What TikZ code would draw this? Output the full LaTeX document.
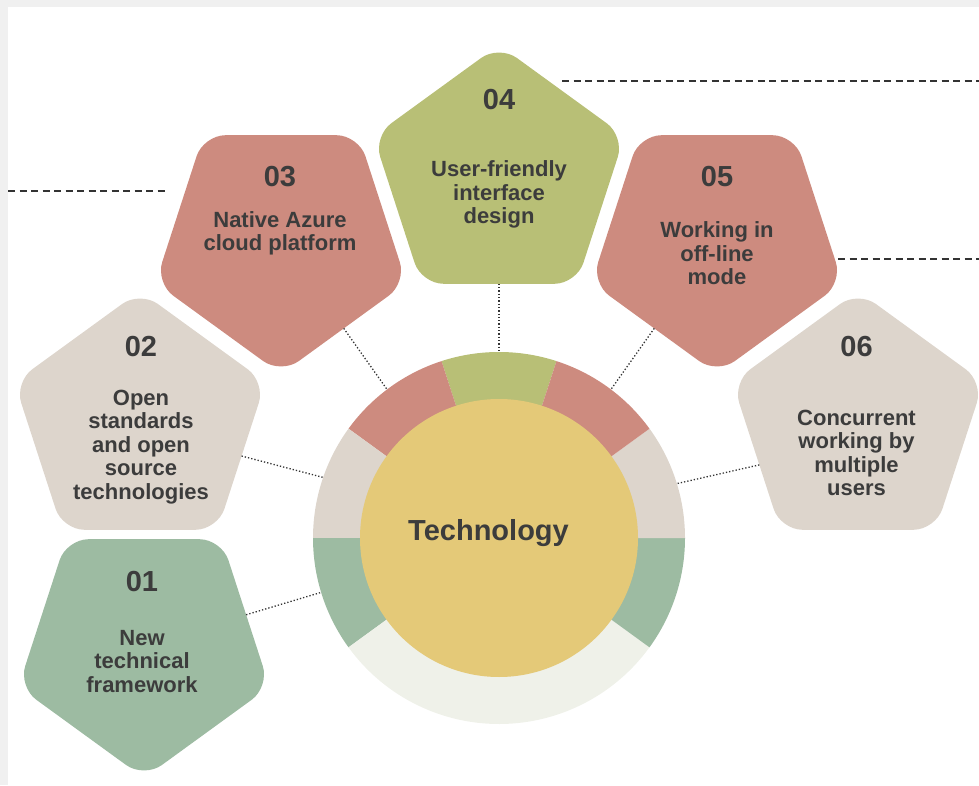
\documentclass[tikz,border=0pt]{standalone}
\usepackage{fontspec}
\setmainfont{Liberation Sans}
\usetikzlibrary{shapes.geometric}
\definecolor{cOlive}{HTML}{B8BF76}
\definecolor{cSalmon}{HTML}{CD8B7F}
\definecolor{cBeige}{HTML}{DDD5CC}
\definecolor{cSage}{HTML}{9DBBA2}
\definecolor{cLight}{HTML}{EFF1E9}
\definecolor{cYellow}{HTML}{E4C978}
\definecolor{cText}{HTML}{3C3C3C}
\definecolor{cLine}{HTML}{333333}
\definecolor{cStrip}{HTML}{F0F0F0}
\begin{document}
\begin{tikzpicture}[x=1pt,y=1pt,
  pent/.style={regular polygon, regular polygon sides=5, minimum size=264pt,
               inner sep=0pt, outer sep=0pt, rounded corners=22pt},
  pdown/.style={shape border rotate=180},
  num/.style={font=\fontsize{29}{32}\selectfont\bfseries, text=cText, anchor=base, inner sep=0pt},
  desc/.style={font=\fontsize{22}{23.5}\selectfont\bfseries, text=cText, align=center, anchor=base, inner sep=0pt},
  dotc/.style={draw=cLine, line width=1.3pt, dotted},
  dashc/.style={draw=cLine, line width=1.4pt, dash pattern=on 7pt off 4.5pt}]
\useasboundingbox (0,0) rectangle (979,785);
\fill[cStrip] (0,778) rectangle (979,785);
\fill[cStrip] (0,0) rectangle (8,785);

% dashed guide lines
\coordinate (dla) at (8,594);   \coordinate (dlb) at (165,594);
\coordinate (dta) at (562,704); \coordinate (dtb) at (979,704);
\coordinate (dra) at (838,526); \coordinate (drb) at (979,526);
\draw[dashc] (dla) -- (dlb);
\draw[dashc] (dta) -- (dtb);
\draw[dashc] (dra) -- (drb);

% ring
\coordinate (c) at (499,247);
\fill[cOlive]  (c) -- ++(72:186)  arc[start angle=72,  end angle=108, radius=186] -- cycle;
\fill[cSalmon] (c) -- ++(108:186) arc[start angle=108, end angle=144, radius=186] -- cycle;
\fill[cBeige]  (c) -- ++(144:186) arc[start angle=144, end angle=180, radius=186] -- cycle;
\fill[cSage]   (c) -- ++(180:186) arc[start angle=180, end angle=216, radius=186] -- cycle;
\fill[cLight]  (c) -- ++(216:186) arc[start angle=216, end angle=324, radius=186] -- cycle;
\fill[cSage]   (c) -- ++(324:186) arc[start angle=324, end angle=360, radius=186] -- cycle;
\fill[cBeige]  (c) -- ++(0:186)   arc[start angle=0,   end angle=36,  radius=186] -- cycle;
\fill[cSalmon] (c) -- ++(36:186)  arc[start angle=36,  end angle=72,  radius=186] -- cycle;
\node[circle, minimum size=372pt, inner sep=0pt] (ring) at (c) {};
\node[circle, fill=cYellow, minimum size=278pt, inner sep=0pt] (core) at (c) {};
\node[num] (tech) at (488.5,245) {Technology};

% pentagons
\node[pent, fill=cOlive] (p4) at (499,608) {};
\node[pent, pdown, fill=cSalmon] (p3) at (281,543) {};
\node[pent, pdown, fill=cSalmon] (p5) at (717,543) {};
\node[pent, fill=cBeige] (p2) at (140,362) {};
\node[pent, fill=cBeige] (p6) at (858,362) {};
\node[pent, pdown, fill=cSage] (p1) at (144,139) {};

% texts (desc nodes anchored at the baseline of their last line)
\node[num] (n4) at (499,675) {04};
\node[desc] (d4) at (499,561) {User-friendly\\interface\\design};
\node[num] (n3) at (280,598.3) {03};
\node[desc] (d3) at (280,534.2) {Native Azure\\cloud platform};
\node[num] (n5) at (717,598.3) {05};
\node[desc] (d5) at (717,500) {Working in\\off-line\\mode};
\node[num] (n2) at (141,428.3) {02};
\node[desc] (d2) at (141,286) {Open\\standards\\and open\\source\\technologies};
\node[num] (n6) at (856.5,428.3) {06};
\node[desc] (d6) at (856.5,289.5) {Concurrent\\working by\\multiple\\users};
\node[num] (n1) at (142,193.3) {01};
\node[desc] (d1) at (142,93) {New\\technical\\framework};

% connectors
\draw[dotc] (p4.270) -- (ring.90);
\draw[dotc] (p3.306) -- (ring.127);
\draw[dotc] (p5.234) -- (ring.53);
\draw[dotc] (p2.342) -- (ring.161);
\draw[dotc] (p6.203) -- (ring.17);
\draw[dotc] (p1.17) -- (ring.197);
\end{tikzpicture}
\end{document}
